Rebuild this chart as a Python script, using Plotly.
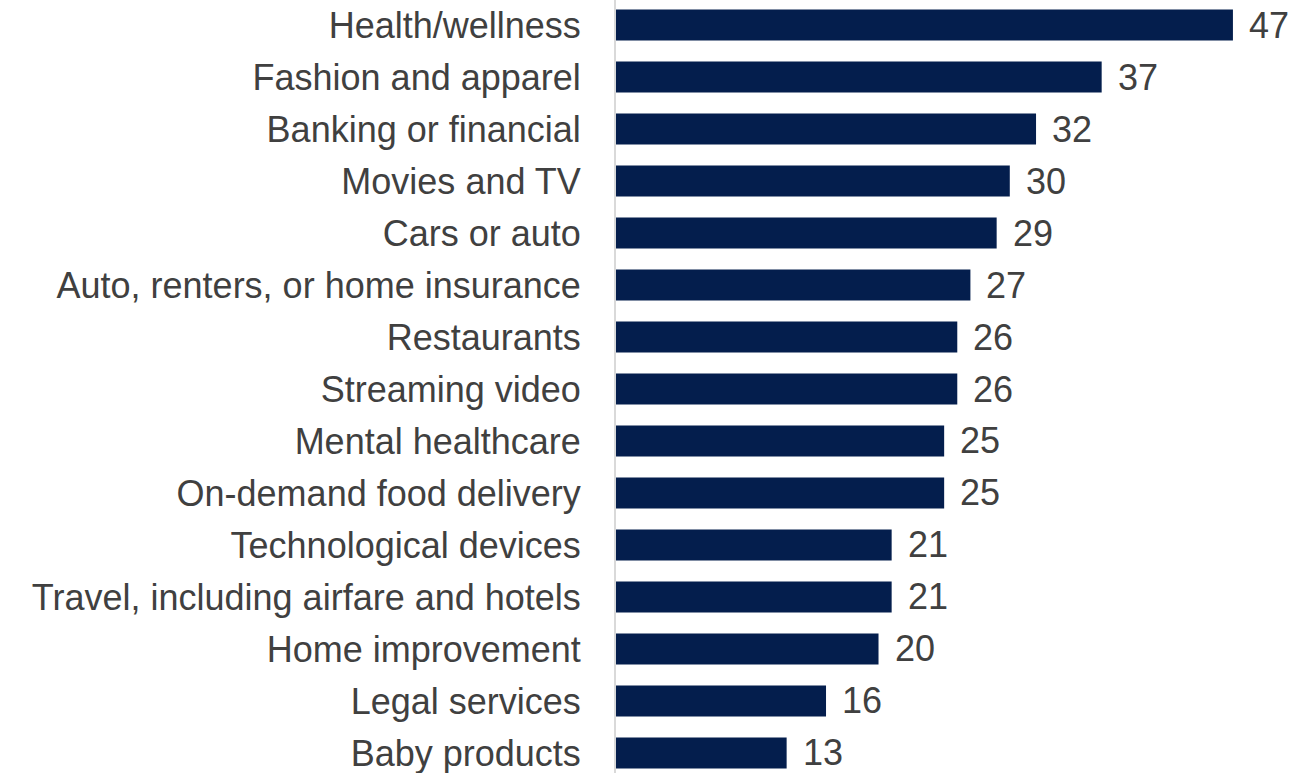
import plotly.graph_objects as go

categories = [
    "Health/wellness",
    "Fashion and apparel",
    "Banking or financial",
    "Movies and TV",
    "Cars or auto",
    "Auto, renters, or home insurance",
    "Restaurants",
    "Streaming video",
    "Mental healthcare",
    "On-demand food delivery",
    "Technological devices",
    "Travel, including airfare and hotels",
    "Home improvement",
    "Legal services",
    "Baby products",
]
values = [47, 37, 32, 30, 29, 27, 26, 26, 25, 25, 21, 21, 20, 16, 13]

BAR_COLOR = "#041E4D"
TEXT_COLOR = "#404040"
FONT = "Liberation Sans, Arial, sans-serif"
FONT_SIZE = 36

fig = go.Figure(
    go.Bar(
        x=values,
        y=categories,
        orientation="h",
        marker=dict(color=BAR_COLOR, line=dict(width=0)),
        width=0.6,
        hoverinfo="skip",
    )
)

# value labels just past the end of each bar
for cat, val in zip(categories, values):
    fig.add_annotation(
        x=val, y=cat, text=str(val), showarrow=False,
        xanchor="left", xshift=14,
        font=dict(family=FONT, size=FONT_SIZE, color=TEXT_COLOR),
    )

fig.update_layout(
    width=1292,
    height=773,
    margin=dict(l=616, r=0, t=0, b=0),
    paper_bgcolor="white",
    plot_bgcolor="white",
    showlegend=False,
    font=dict(family=FONT, size=FONT_SIZE, color=TEXT_COLOR),
)
fig.update_xaxes(
    range=[0, 51.5], visible=False, showgrid=False, zeroline=False,
)
fig.update_yaxes(
    type="category",
    categoryorder="array",
    categoryarray=categories,
    range=[14.385, -0.481],
    showgrid=False,
    zeroline=False,
    showline=True,
    linecolor="#D9D9D9",
    linewidth=2,
    ticks="outside",
    ticklen=26,
    tickcolor="rgba(0,0,0,0)",
    tickfont=dict(family=FONT, size=FONT_SIZE, color=TEXT_COLOR),
)

fig.write_html("out.html")
